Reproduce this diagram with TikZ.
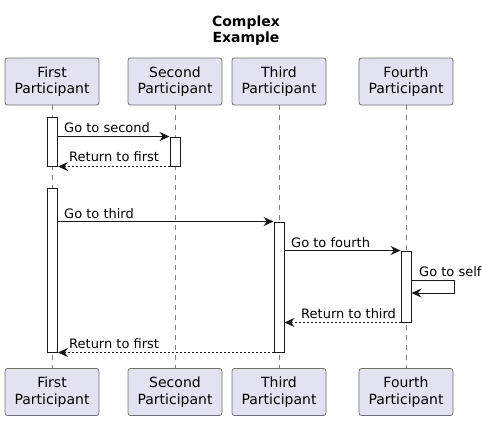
\documentclass[tikz,border=0pt]{standalone}
\usepackage{fontspec}
\setmainfont{DejaVu Sans}
\usetikzlibrary{arrows.meta,calc}
\definecolor{pfill}{HTML}{E2E2F0}
\definecolor{pline}{HTML}{181818}
\definecolor{pborder}{HTML}{707070}
\definecolor{lline}{HTML}{808080}
\tikzset{
  part/.style={draw=pborder, line width=0.8pt, fill=pfill, rounded corners=2.5pt,
    minimum width=94pt, minimum height=47pt, align=center, inner sep=0pt,
    font=\fontsize{14}{16.5}\selectfont},
  lifeline/.style={draw=lline, line width=0.7pt, dash pattern=on 5pt off 5pt},
  actbox/.style={draw=pline, line width=1pt, fill=white, minimum width=10pt, inner sep=0pt},
  msg/.style={draw=pline, line width=1pt, -{Stealth[length=10pt,width=9pt,inset=3.5pt]}},
  ret/.style={msg, dash pattern=on 2pt off 2pt},
  lbl/.style={anchor=base west, inner sep=0pt, font=\fontsize{13}{15}\selectfont},
  ttl/.style={align=center, font=\fontsize{14}{16}\selectfont\bfseries, inner sep=0pt}
}
\begin{document}
\begin{tikzpicture}[x=1pt,y=-1pt]
\useasboundingbox (0,0) rectangle (486,420);
\node[ttl] (title) at (246,31) {Complex\\Example};
% top participants
\node[part] (p1t) at (52,81.5) {First\\Participant};
\node[part] (p2t) at (175,81.5) {Second\\Participant};
\node[part] (p3t) at (279,81.5) {Third\\Participant};
\node[part] (p4t) at (406,81.5) {Fourth\\Participant};
% bottom participants
\node[part] (p1b) at (52,392) {First\\Participant};
\node[part] (p2b) at (175,392) {Second\\Participant};
\node[part] (p3b) at (279,392) {Third\\Participant};
\node[part] (p4b) at (406,392) {Fourth\\Participant};
% lifelines
\draw[lifeline] (p1t.south) -- (p1b.north);
\draw[lifeline] (p2t.south) -- (p2b.north);
\draw[lifeline] (p3t.south) -- (p3b.north);
\draw[lifeline] (p4t.south) -- (p4b.north);
% activations
\node[actbox, minimum height=49pt] (a1) at (52.5,141.5) {};
\node[actbox, minimum height=29pt] (a2) at (175,151.5) {};
\node[actbox, minimum height=164pt] (b1) at (52.5,270) {};
\node[actbox, minimum height=130pt] (c1) at (279,287) {};
\node[actbox, minimum height=71pt] (d1) at (406,286.5) {};
% messages
\draw[msg] (a2.north west -| a1.east) -- (a2.north west);
\node[lbl] (l1) at (64,132) {Go to second};
\draw[ret] (a2.south west) -- (a2.south west -| a1.east);
\node[lbl] (l2) at (69,161) {Return to first};
\draw[msg] (c1.north west -| b1.east) -- (c1.north west);
\node[lbl] (l3) at (64,218) {Go to third};
\draw[msg] (d1.north west -| c1.east) -- (d1.north west);
\node[lbl] (l4) at (291,247) {Go to fourth};
\coordinate (s1) at ($(d1.east)+(0,-6.5)$);
\coordinate (s2) at ($(d1.east)+(43,-6.5)$);
\coordinate (s3) at ($(d1.east)+(43,6.5)$);
\coordinate (s4) at ($(d1.east)+(0,6.5)$);
\draw[msg] (s1) -- (s2) -- (s3) -- (s4);
\node[lbl] (l5) at (419,276) {Go to self};
\draw[ret] (d1.south west) -- (d1.south west -| c1.east);
\node[lbl] (l6) at (301,318) {Return to third};
\draw[ret] (c1.south west) -- (c1.south west -| b1.east);
\node[lbl] (l7) at (69,348) {Return to first};
\end{tikzpicture}
\end{document}
